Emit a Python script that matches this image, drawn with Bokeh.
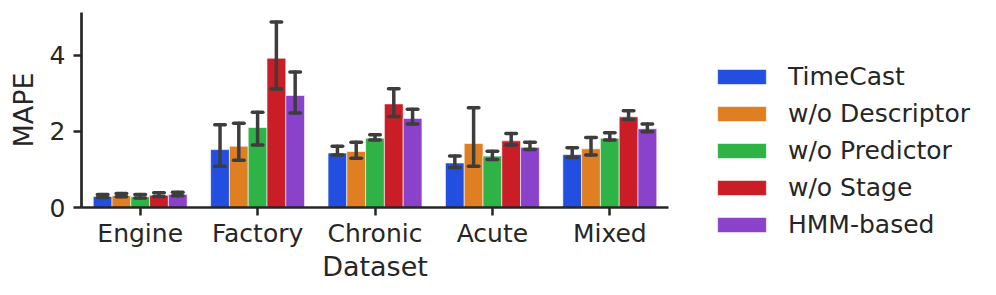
from bokeh.plotting import figure
from bokeh.models import Range1d, FixedTicker, Legend, LegendItem, ColumnDataSource
from bokeh.embed import file_html
from bokeh.resources import INLINE

datasets = ["Engine", "Factory", "Chronic", "Acute", "Mixed"]
series = ["TimeCast", "w/o Descriptor", "w/o Predictor", "w/o Stage", "HMM-based"]
colors = ["#224fdf", "#df7f22", "#30b346", "#cb1d25", "#8a42cb"]

timecast_mean = [0.29, 1.52, 1.43, 1.17, 1.39]
timecast_lo = [0.26, 1.08, 1.38, 1.05, 1.31]
timecast_hi = [0.34, 2.17, 1.61, 1.35, 1.57]

descriptor_mean = [0.31, 1.61, 1.47, 1.68, 1.54]
descriptor_lo = [0.28, 1.24, 1.29, 1.08, 1.38]
descriptor_hi = [0.37, 2.21, 1.71, 2.62, 1.84]

predictor_mean = [0.28, 2.10, 1.82, 1.35, 1.82]
predictor_lo = [0.25, 1.64, 1.77, 1.26, 1.77]
predictor_hi = [0.34, 2.50, 1.91, 1.48, 1.96]

stage_mean = [0.32, 3.92, 2.72, 1.75, 2.38]
stage_lo = [0.29, 3.11, 2.39, 1.64, 2.31]
stage_hi = [0.39, 4.87, 3.12, 1.94, 2.54]

hmm_mean = [0.34, 2.94, 2.34, 1.58, 2.07]
hmm_lo = [0.31, 2.48, 2.19, 1.52, 1.99]
hmm_hi = [0.40, 3.56, 2.58, 1.71, 2.19]

means = [timecast_mean, descriptor_mean, predictor_mean, stage_mean, hmm_mean]
los = [timecast_lo, descriptor_lo, predictor_lo, stage_lo, hmm_lo]
his = [timecast_hi, descriptor_hi, predictor_hi, stage_hi, hmm_hi]

TXT = "#262626"
p = figure(width=980, height=279, frame_width=587, frame_height=195,
           min_border_left=81, min_border_top=12, min_border_bottom=72, min_border_right=312,
           x_range=Range1d(-0.5, 4.5), y_range=Range1d(0, 5.12),
           output_backend="svg", toolbar_location=None)
p.outline_line_color = None
p.grid.visible = False
p.background_fill_color = "white"

n = len(series)
bw = 0.8 / n
items = []
for i in range(n):
    off = -0.4 + bw * (i + 0.5)
    xs = [k + off for k in range(len(datasets))]
    src = ColumnDataSource(dict(x=xs, top=means[i], lo=los[i], hi=his[i],
                                cl=[x - 0.045 for x in xs], cr=[x + 0.045 for x in xs]))
    r = p.vbar(x="x", top="top", width=bw, bottom=0, source=src,
               fill_color=colors[i], line_color="white", line_width=1, line_alpha=0.6)
    items.append(LegendItem(label=series[i], renderers=[r]))
    p.segment(x0="x", y0="lo", x1="x", y1="hi", source=src, line_color="#3d3d3d",
              line_width=3.5, line_cap="round")
    p.segment(x0="cl", y0="lo", x1="cr", y1="lo", source=src, line_color="#3d3d3d",
              line_width=3.5, line_cap="round")
    p.segment(x0="cl", y0="hi", x1="cr", y1="hi", source=src, line_color="#3d3d3d",
              line_width=3.5, line_cap="round")

for ax in (p.xaxis[0], p.yaxis[0]):
    ax.axis_line_width = 2.7
    ax.axis_line_color = TXT
    ax.major_tick_line_width = 2.5
    ax.major_tick_line_color = TXT
    ax.major_tick_out = 8
    ax.major_tick_in = 0
    ax.minor_tick_line_color = None
    ax.major_label_text_font = "DejaVu Sans"
    ax.major_label_text_font_size = "25px"
    ax.major_label_text_color = TXT
    ax.axis_label_text_font = "DejaVu Sans"
    ax.axis_label_text_font_size = "27px"
    ax.axis_label_text_font_style = "normal"
    ax.axis_label_text_color = TXT

p.xaxis.ticker = FixedTicker(ticks=list(range(len(datasets))))
p.xaxis.major_label_overrides = {k: d for k, d in enumerate(datasets)}
p.xaxis.axis_label = "Dataset"
p.xaxis.major_label_standoff = 3
p.xaxis.axis_label_standoff = 0
p.yaxis.ticker = FixedTicker(ticks=[0, 2, 4])
p.yaxis.axis_label = "MAPE"
p.yaxis.major_label_standoff = 8
p.yaxis.axis_label_standoff = 8

legend = Legend(items=items, location=(43, -32), orientation="vertical",
                glyph_width=61, glyph_height=19, label_standoff=16,
                label_height=28, spacing=8, padding=0, margin=0,
                label_text_font="DejaVu Sans", label_text_font_size="25px",
                label_text_color=TXT, border_line_color=None,
                background_fill_alpha=0)
p.add_layout(legend, "right")

open("out.html", "w").write(file_html(p, INLINE))
